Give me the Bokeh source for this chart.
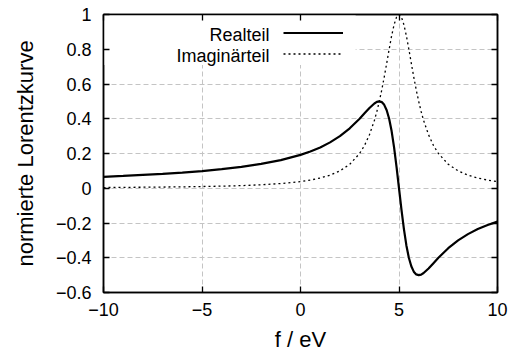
from bokeh.plotting import figure
from bokeh.models import (FixedTicker, LinearAxis, Range1d, Label, Legend,
                          LegendItem, BoxAnnotation)
from bokeh.embed import file_html
from bokeh.resources import INLINE

# ---- data ----
f_ev = [-10, -9, -8, -7, -6, -5, -4, -3, -2, -1, 0, 0.5, 1, 1.5, 2, 2.5, 3,
        3.25, 3.5, 3.75, 3.875, 4, 4.125, 4.25, 4.375, 4.5, 4.625, 4.75, 4.875,
        5, 5.125, 5.25, 5.375, 5.5, 5.625, 5.75, 5.875, 6, 6.125, 6.25, 6.5,
        6.75, 7, 7.5, 8, 8.5, 9, 9.5, 10]
realteil = [0.066, 0.071, 0.077, 0.083, 0.090, 0.099, 0.110, 0.123, 0.140,
            0.162, 0.192, 0.212, 0.235, 0.264, 0.300, 0.345, 0.400,
            0.431, 0.462, 0.488, 0.497, 0.500, 0.496, 0.480, 0.449, 0.400,
            0.329, 0.235, 0.123,
            0.0, -0.123, -0.235, -0.329, -0.400, -0.449, -0.480, -0.496,
            -0.500, -0.497, -0.488, -0.462, -0.431, -0.400, -0.345, -0.300,
            -0.264, -0.235, -0.212, -0.192]
imaginaerteil = [0.004, 0.005, 0.006, 0.007, 0.008, 0.010, 0.012, 0.015, 0.020,
                 0.027, 0.038, 0.047, 0.059, 0.075, 0.100, 0.138, 0.200,
                 0.246, 0.308, 0.390, 0.441, 0.500, 0.566, 0.640, 0.719, 0.800,
                 0.877, 0.941, 0.985,
                 1.000, 0.985, 0.941, 0.877, 0.800, 0.719, 0.640, 0.566,
                 0.500, 0.441, 0.390, 0.308, 0.246, 0.200, 0.138, 0.100,
                 0.075, 0.059, 0.047, 0.038]
x_ticks = [-10, -5, 0, 5, 10]
x_tick_labels = ["\u221210", "\u22125", "0", "5", "10"]
y_ticks = [-0.6, -0.4, -0.2, 0, 0.2, 0.4, 0.6, 0.8, 1]
y_tick_labels = ["\u22120.6", "\u22120.4", "\u22120.2", "0", "0.2", "0.4",
                 "0.6", "0.8", "1"]
series_names = ["Realteil", "Imagin\u00e4rteil"]

FONT = "Liberation Sans"

p = figure(width=510, height=356, output_backend="svg", toolbar_location=None,
           x_range=Range1d(-10, 10), y_range=Range1d(-0.6, 1),
           min_border_left=103, min_border_right=13, min_border_top=14,
           min_border_bottom=64, x_axis_location=None, y_axis_location=None)
p.outline_line_color = "black"
p.outline_line_width = 1.5
p.background_fill_color = "white"
p.border_fill_color = "white"


def style_axis(ax, ticks, labels, show):
    ax.ticker = FixedTicker(ticks=ticks)
    ax.major_label_overrides = {t: l for t, l in zip(ticks, labels)}
    ax.minor_tick_line_color = None
    ax.major_tick_in = 6
    ax.major_tick_out = 0
    ax.major_tick_line_width = 1.3
    ax.major_tick_line_color = "black"
    ax.axis_line_color = "black"
    ax.axis_line_width = 1.5
    ax.major_label_text_font = FONT
    ax.axis_label_text_font = FONT
    ax.axis_label_text_font_style = "normal"
    ax.axis_label_text_color = "black"
    ax.major_label_text_color = "black"
    if show:
        ax.major_label_text_font_size = "18px"
        ax.axis_label_text_font_size = "22px"
    else:
        ax.major_label_text_font_size = "0px"
        ax.major_label_standoff = 0
        ax.major_label_text_alpha = 0


xb = LinearAxis(axis_label="f / eV")
style_axis(xb, x_ticks, x_tick_labels, True)
xb.major_label_standoff = 10
xb.axis_label_standoff = 8
yl = LinearAxis(axis_label="normierte Lorentzkurve")
style_axis(yl, y_ticks, y_tick_labels, True)
yl.major_label_standoff = 12
yl.axis_label_standoff = 15
xt = LinearAxis()
style_axis(xt, x_ticks, x_tick_labels, False)
yr = LinearAxis()
style_axis(yr, y_ticks, y_tick_labels, False)
p.add_layout(xb, "below")
p.add_layout(yl, "left")
p.add_layout(xt, "above")
p.add_layout(yr, "right")

p.xgrid.ticker = FixedTicker(ticks=x_ticks)
p.ygrid.ticker = FixedTicker(ticks=y_ticks)
for g in (p.xgrid, p.ygrid):
    g.grid_line_color = "#c4c4c4"
    g.grid_line_dash = "5 3"
    g.grid_line_width = 1

# white key area that hides the grid
key_box = BoxAnnotation(left=-10, right=2.8, bottom=0.71, top=1,
                        fill_color="white", fill_alpha=1, line_color=None,
                        level="underlay")
p.add_layout(key_box)

r_im = p.line(f_ev, imaginaerteil, line_color="black", line_width=1.3,
              line_dash="2 3")
r_re = p.line(f_ev, realteil, line_color="black", line_width=2.2)

# key: text right-aligned, sample line to the right (gnuplot style)
key = Legend(items=[LegendItem(label=" ", renderers=[r_re]),
                    LegendItem(label=" ", renderers=[r_im])],
             location=(180, 228), orientation="vertical",
             glyph_width=60, glyph_height=21, label_width=0, label_height=21,
             label_text_font_size="1px", padding=0, margin=0, spacing=0,
             label_standoff=0, background_fill_alpha=0,
             border_line_color=None)
p.add_layout(key)

# label positions in screen pixels relative to the frame's bottom-left
for i, name in enumerate(series_names):
    p.add_layout(Label(x=166, y=258 - 21 * i, x_units="screen",
                       y_units="screen", text=name, text_align="right",
                       text_baseline="middle", text_font=FONT,
                       text_font_size="18px", text_color="black"))

open("out.html", "w").write(file_html(p, INLINE))
